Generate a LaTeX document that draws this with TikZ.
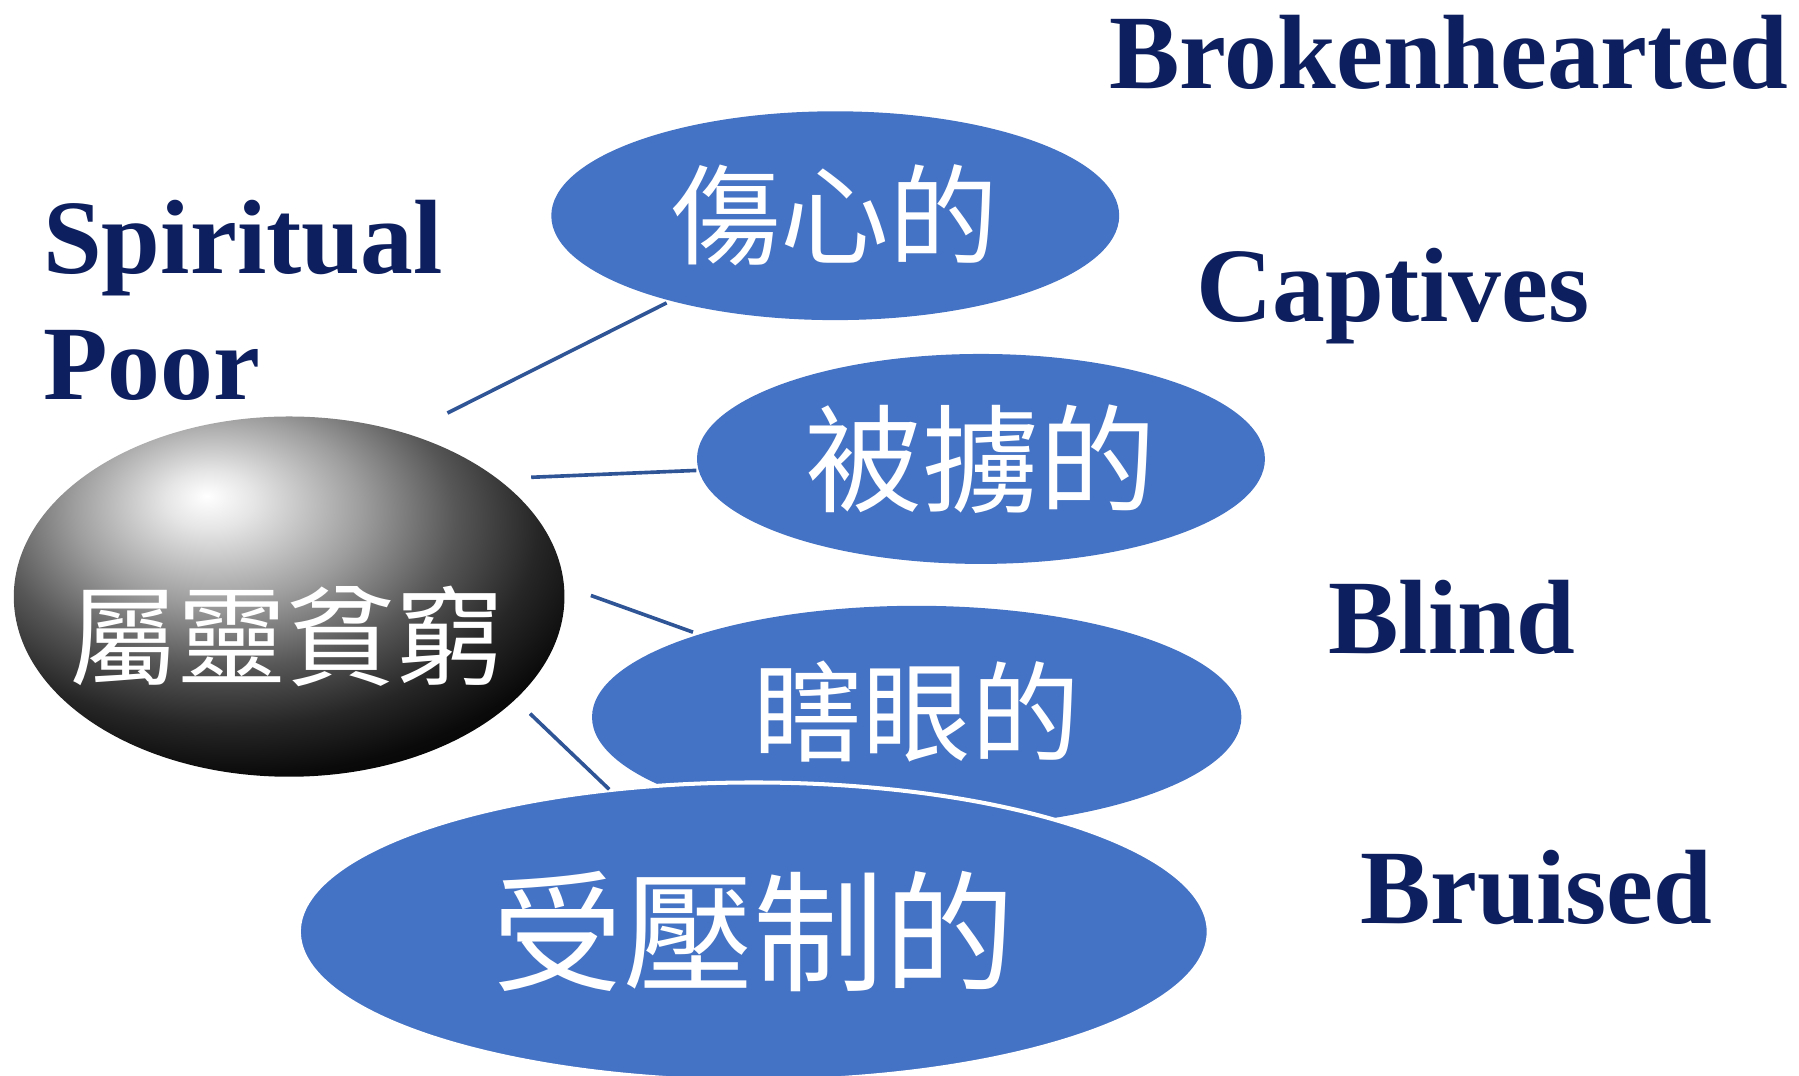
\documentclass[tikz,border=0pt]{standalone}
\usepackage{fontspec}
\setmainfont{Liberation Serif}
\newfontfamily\cjk{Noto Sans CJK TC}
\usetikzlibrary{shapes.geometric}
\definecolor{obl}{HTML}{4472C4}
\definecolor{navy}{HTML}{0D1F5E}
\definecolor{lnk}{HTML}{2F5597}
\pgfdeclareradialshading{myball}{\pgfpoint{-7.5bp}{14bp}}{%
  color(0bp)=(white); color(4bp)=(white!90!black); color(13bp)=(black!38);
  color(21bp)=(black!66); color(28bp)=(black!85); color(34bp)=(black!96); color(40bp)=(black); color(100bp)=(black)}
\tikzset{
  bubble/.style={ellipse, fill=obl, inner sep=0pt, text=white},
  eng/.style={anchor=base west, text=navy, inner sep=0pt, font=\fontsize{26.2pt}{30pt}\selectfont\bfseries},
  cjktxt/.style={text=white, inner sep=0pt},
  link/.style={draw=lnk, line width=0.9pt}
}
\begin{document}
\begin{tikzpicture}[x=0.1mm,y=-0.1mm]
\useasboundingbox (0,0) rectangle (1568,937);
% central ball
\node[ellipse, minimum width=48mm, minimum height=31.4mm, inner sep=0pt, shading=myball] (poor) at (252,520) {};
\node[cjktxt, font=\cjk\fontsize{27pt}{30pt}\selectfont] (poortxt) at (250,555) {屬靈貧窮};
% bubbles
\node[bubble, minimum width=49.5mm, minimum height=18.2mm, font=\cjk\fontsize{27pt}{30pt}\selectfont] (heart) at (728,188) {傷心的};
\node[bubble, minimum width=49.5mm, minimum height=18.3mm, font=\cjk\fontsize{29pt}{32pt}\selectfont] (capt) at (855,400) {被擄的};
\node[bubble, minimum width=56.6mm, minimum height=19.4mm] (blind) at (799,625) {};
\node[cjktxt, font=\cjk\fontsize{27pt}{30pt}\selectfont] (blindtxt) at (799,620) {瞎眼的};
\node[bubble, draw=white, line width=1pt, minimum width=79.3mm, minimum height=26mm, font=\cjk\fontsize{32.4pt}{36pt}\selectfont] (bruis) at (657,812) {受壓制的};
% connectors
\coordinate (a1) at (390,360); \coordinate (b1) at (581,264);
\coordinate (a2) at (463,416); \coordinate (b2) at (607,410);
\coordinate (a3) at (515,519); \coordinate (b3) at (604,551);
\coordinate (a4) at (462,622); \coordinate (b4) at (531,688);
\draw[link] (a1) -- (b1);
\draw[link] (a2) -- (b2);
\draw[link] (a3) -- (b3);
\draw[link] (a4) -- (b4);
% english labels
\node[eng] (tbroken) at (966,77) {Brokenhearted};
\node[eng] (tspirit) at (37,238) {Spiritual};
\node[eng] (tpoor) at (37,348) {Poor};
\node[eng] (tcapt) at (1042,280) {Captives};
\node[eng] (tblind) at (1157,570) {Blind};
\node[eng] (tbruis) at (1185,805) {Bruised};
\end{tikzpicture}
\end{document}
